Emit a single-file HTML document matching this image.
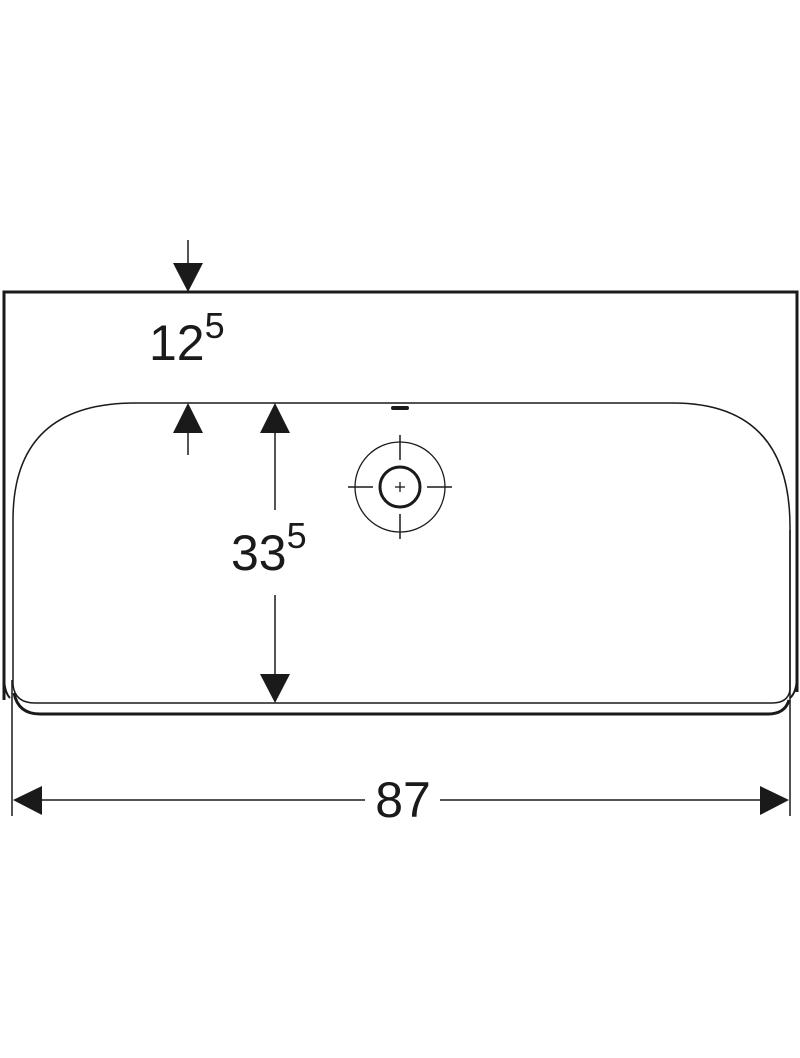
<!DOCTYPE html>
<html><head><style>html,body{margin:0;padding:0;background:#fff}svg{display:block}</style></head>
<body>
<svg width="800" height="1058" viewBox="0 0 800 1058" xmlns="http://www.w3.org/2000/svg">
<g fill="none" stroke="#1a1a1a">
<path d="M4 700 L4 292 L797 292 L797 692" stroke-width="3"/>
<path d="M4 675 Q4 692 10 698" stroke-width="2"/>
<path d="M797 675 Q797 692 790 698" stroke-width="2"/>
<path d="M14 693 Q18 714 40 714 L768 714 Q785 714 789 700" stroke-width="3"/>
<path d="M135 403 L673 403 Q790 403 790 527 L790 690 Q788 703 772 703 L35 703 Q15 703 13 685 L13 520 Q13 403 135 403 Z" stroke-width="1.5"/>
<line x1="12" y1="680" x2="12" y2="816" stroke-width="1.5"/>
<line x1="790" y1="530" x2="790" y2="816" stroke-width="1.5"/>
<line x1="40" y1="800" x2="365" y2="800" stroke-width="1.5"/>
<line x1="440" y1="800" x2="762" y2="800" stroke-width="1.5"/>
<line x1="188" y1="240" x2="188" y2="265" stroke-width="1.5"/>
<line x1="188" y1="430" x2="188" y2="455" stroke-width="1.5"/>
<line x1="275" y1="430" x2="275" y2="510" stroke-width="1.5"/>
<line x1="275" y1="595" x2="275" y2="676" stroke-width="1.5"/>
<circle cx="400" cy="487" r="45" stroke-width="1.3"/>
<circle cx="400" cy="487" r="20" stroke-width="3"/>
<line x1="348" y1="487" x2="373" y2="487" stroke-width="1.5"/>
<line x1="427" y1="487" x2="452" y2="487" stroke-width="1.5"/>
<line x1="400" y1="435" x2="400" y2="460" stroke-width="1.5"/>
<line x1="400" y1="514" x2="400" y2="539" stroke-width="1.5"/>
<line x1="395" y1="487" x2="405" y2="487" stroke-width="1.3"/>
<line x1="400" y1="482" x2="400" y2="492" stroke-width="1.3"/>
<line x1="393" y1="408" x2="407" y2="408" stroke-width="4" stroke-linecap="round"/>
</g>
<g fill="#1a1a1a">
<polygon points="173,263 203,263 188,292"/>
<polygon points="173,433 203,433 188,403"/>
<polygon points="260,433 290,433 275,403"/>
<polygon points="260,674 290,674 275,703"/>
<polygon points="13,800 42,786 42,815"/>
<polygon points="789,800 760,786 760,815"/>
</g>
<g font-family="'Liberation Sans', sans-serif" fill="#1a1a1a">
<text x="149" y="360" font-size="50">12<tspan font-size="36" dy="-22">5</tspan></text>
<text x="231" y="570" font-size="50">33<tspan font-size="36" dy="-22">5</tspan></text>
<text x="403" y="817" font-size="50" text-anchor="middle">87</text>
</g>
</svg>
</body></html>
